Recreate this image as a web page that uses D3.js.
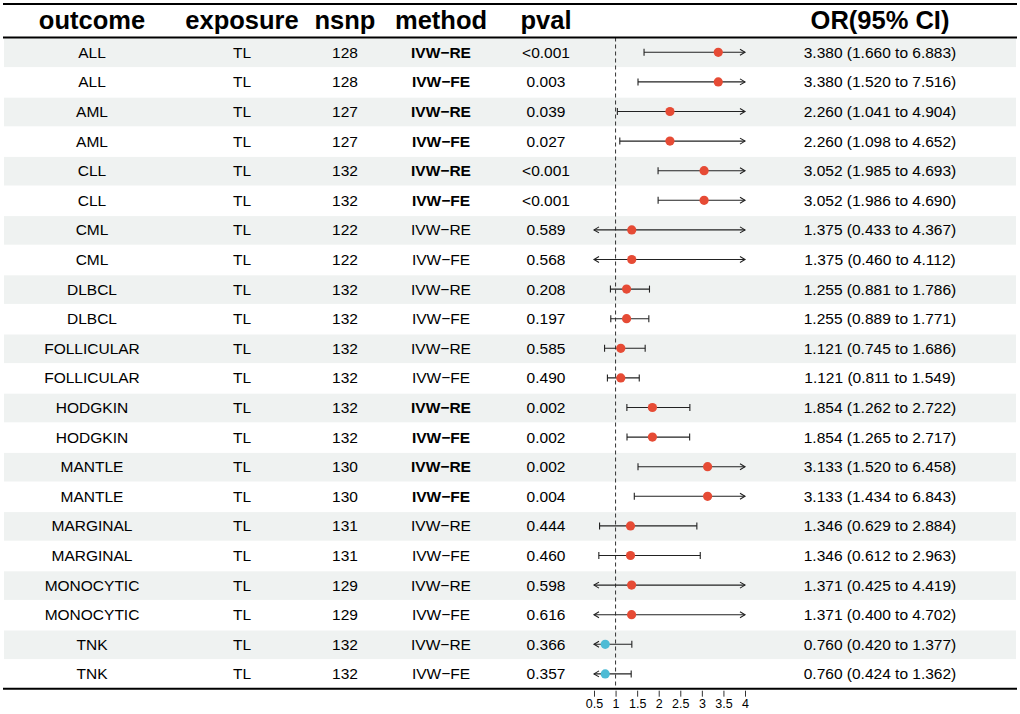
<!DOCTYPE html>
<html>
<head>
<meta charset="utf-8">
<script src="https://d3js.org/d3.v7.min.js"></script>
<style>
  body { margin: 0; background: #fff; }
  text { font-family: "Liberation Sans", Arial, sans-serif; }
</style>
</head>
<body>
<div id="forest"></div>
<script>
// table data
let outcomes = ["ALL", "ALL", "AML", "AML", "CLL", "CLL", "CML", "CML", "DLBCL", "DLBCL",
  "FOLLICULAR", "FOLLICULAR", "HODGKIN", "HODGKIN", "MANTLE", "MANTLE", "MARGINAL", "MARGINAL",
  "MONOCYTIC", "MONOCYTIC", "TNK", "TNK"];
let exposure = "TL";
let nsnp = [128, 128, 127, 127, 132, 132, 122, 122, 132, 132, 132, 132, 132, 132, 130, 130, 131, 131, 129, 129, 132, 132];
let methods = ["IVW\u2212RE", "IVW\u2212FE"];
let pvals = ["<0.001", "0.003", "0.039", "0.027", "<0.001", "<0.001", "0.589", "0.568", "0.208", "0.197",
  "0.585", "0.490", "0.002", "0.002", "0.002", "0.004", "0.444", "0.460", "0.598", "0.616", "0.366", "0.357"];
let or = [3.380, 3.380, 2.260, 2.260, 3.052, 3.052, 1.375, 1.375, 1.255, 1.255, 1.121, 1.121,
  1.854, 1.854, 3.133, 3.133, 1.346, 1.346, 1.371, 1.371, 0.760, 0.760];
let lower = [1.660, 1.520, 1.041, 1.098, 1.985, 1.986, 0.433, 0.460, 0.881, 0.889, 0.745, 0.811,
  1.262, 1.265, 1.520, 1.434, 0.629, 0.612, 0.425, 0.400, 0.420, 0.424];
let upper = [6.883, 7.516, 4.904, 4.652, 4.693, 4.690, 4.367, 4.112, 1.786, 1.771, 1.686, 1.549,
  2.722, 2.717, 6.458, 6.843, 2.884, 2.963, 4.419, 4.702, 1.377, 1.362];
let xTicks = [0.5, 1, 1.5, 2, 2.5, 3, 3.5, 4];

let svgWidth = 1020;
let svgHeight = 714;

let svg = d3.select("#forest")
  .append("svg")
  .attr("width", svgWidth)
  .attr("height", svgHeight);

// layout of the table
let tableLeft = 3, tableRight = 1017;
let headTop = 4, headBottom = 37.5;
let rowH = 29.6;
let nRows = outcomes.length;
let tableBottom = headBottom + rowH * nRows;

let rows = outcomes.map((o, i) => ({
  outcome: o,
  exposure: exposure,
  nsnp: nsnp[i],
  method: methods[i % 2],
  pval: pvals[i],
  or: or[i], lo: lower[i], hi: upper[i],
  sig: pvals[i].startsWith("<") || parseFloat(pvals[i]) < 0.05
}));

let yRow = d3.scaleBand()
  .domain(d3.range(nRows))
  .range([headBottom, tableBottom]);

let x = d3.scaleLinear()
  .domain([0.5, 4])
  .range([594, 745]);

// shaded rows
svg.append("g")
  .selectAll("rect")
  .data(rows.filter((d, i) => i % 2 === 0).map((d, k) => k * 2))
  .enter()
  .append("rect")
    .attr("x", tableLeft + 1)
    .attr("width", tableRight - tableLeft - 2)
    .attr("y", i => yRow(i) + 1)
    .attr("height", yRow.bandwidth() - 1)
    .attr("fill", "#eff2f1");

// columns
let columns = [
  { key: "outcome", title: "outcome", cx: 92 },
  { key: "exposure", title: "exposure", cx: 242 },
  { key: "nsnp", title: "nsnp", cx: 345 },
  { key: "method", title: "method", cx: 441 },
  { key: "pval", title: "pval", cx: 546 },
  { key: "ci", title: "OR(95% CI)", cx: 880 }
];

svg.append("g")
  .selectAll("text")
  .data(columns)
  .enter()
  .append("text")
    .attr("x", d => d.cx)
    .attr("y", 29)
    .attr("text-anchor", "middle")
    .attr("font-size", 25.5)
    .attr("font-weight", "bold")
    .attr("fill", "#000")
    .text(d => d.title);

let fmt = d3.format(".3f");
let cellText = (d, key) => key === "ci"
  ? `${fmt(d.or)} (${fmt(d.lo)} to ${fmt(d.hi)})`
  : d[key];

columns.forEach(col => {
  svg.append("g")
    .selectAll("text")
    .data(rows)
    .enter()
    .append("text")
      .attr("x", col.cx)
      .attr("y", (d, i) => yRow(i) + yRow.bandwidth() / 2)
      .attr("dy", "0.36em")
      .attr("text-anchor", "middle")
      .attr("font-size", 15.5)
      .attr("font-weight", d => (col.key === "method" && d.sig) ? "bold" : "normal")
      .attr("fill", "#000")
      .text(d => cellText(d, col.key));
});

// reference line at OR = 1
svg.append("line")
  .attr("x1", x(1)).attr("x2", x(1))
  .attr("y1", headBottom).attr("y2", tableBottom)
  .attr("stroke", "#333")
  .attr("stroke-width", 1)
  .attr("stroke-dasharray", "4,3");

// confidence intervals
let [xmin, xmax] = x.domain();
let ciColor = "#222";
let ci = svg.append("g");
rows.forEach((d, i) => {
  let cy = yRow(i) + yRow.bandwidth() / 2;
  let x1 = x(Math.max(d.lo, xmin));
  let x2 = x(Math.min(d.hi, xmax));
  ci.append("line")
    .attr("x1", x1).attr("x2", x2)
    .attr("y1", cy).attr("y2", cy)
    .attr("stroke", ciColor).attr("stroke-width", 1.1);
  // left end
  if (d.lo < xmin) {
    ci.append("path")
      .attr("d", `M${x1 + 5},${cy - 3}L${x1},${cy}L${x1 + 5},${cy + 3}`)
      .attr("fill", "none").attr("stroke", ciColor).attr("stroke-width", 1.1);
  } else {
    ci.append("line")
      .attr("x1", x1).attr("x2", x1)
      .attr("y1", cy - 3.5).attr("y2", cy + 3.5)
      .attr("stroke", ciColor).attr("stroke-width", 1.1);
  }
  // right end
  if (d.hi > xmax) {
    ci.append("path")
      .attr("d", `M${x2 - 5},${cy - 3}L${x2},${cy}L${x2 - 5},${cy + 3}`)
      .attr("fill", "none").attr("stroke", ciColor).attr("stroke-width", 1.1);
  } else {
    ci.append("line")
      .attr("x1", x2).attr("x2", x2)
      .attr("y1", cy - 3.5).attr("y2", cy + 3.5)
      .attr("stroke", ciColor).attr("stroke-width", 1.1);
  }
});

// point estimates
svg.append("g")
  .selectAll("circle")
  .data(rows)
  .enter()
  .append("circle")
    .attr("cx", d => x(d.or))
    .attr("cy", (d, i) => yRow(i) + yRow.bandwidth() / 2)
    .attr("r", 4.6)
    .attr("fill", d => d.or < 1 ? "#4dbbd5" : "#e64b35");

// table rules
[headTop, headBottom, tableBottom].forEach(yy => {
  svg.append("line")
    .attr("x1", tableLeft).attr("x2", tableRight)
    .attr("y1", yy).attr("y2", yy)
    .attr("stroke", "#000")
    .attr("stroke-width", 2);
});

// x axis
let axis = svg.append("g")
  .attr("transform", `translate(0, ${tableBottom + 2})`)
  .call(d3.axisBottom(x).tickValues(xTicks).tickSize(6).tickPadding(2).tickFormat(d3.format("")));
axis.select(".domain").remove();
axis.selectAll(".tick line").attr("stroke", "#333");
axis.selectAll(".tick text")
  .attr("font-size", 12.5)
  .attr("fill", "#000")
  .attr("font-family", "Liberation Sans, Arial, sans-serif");
</script>
</body>
</html>
